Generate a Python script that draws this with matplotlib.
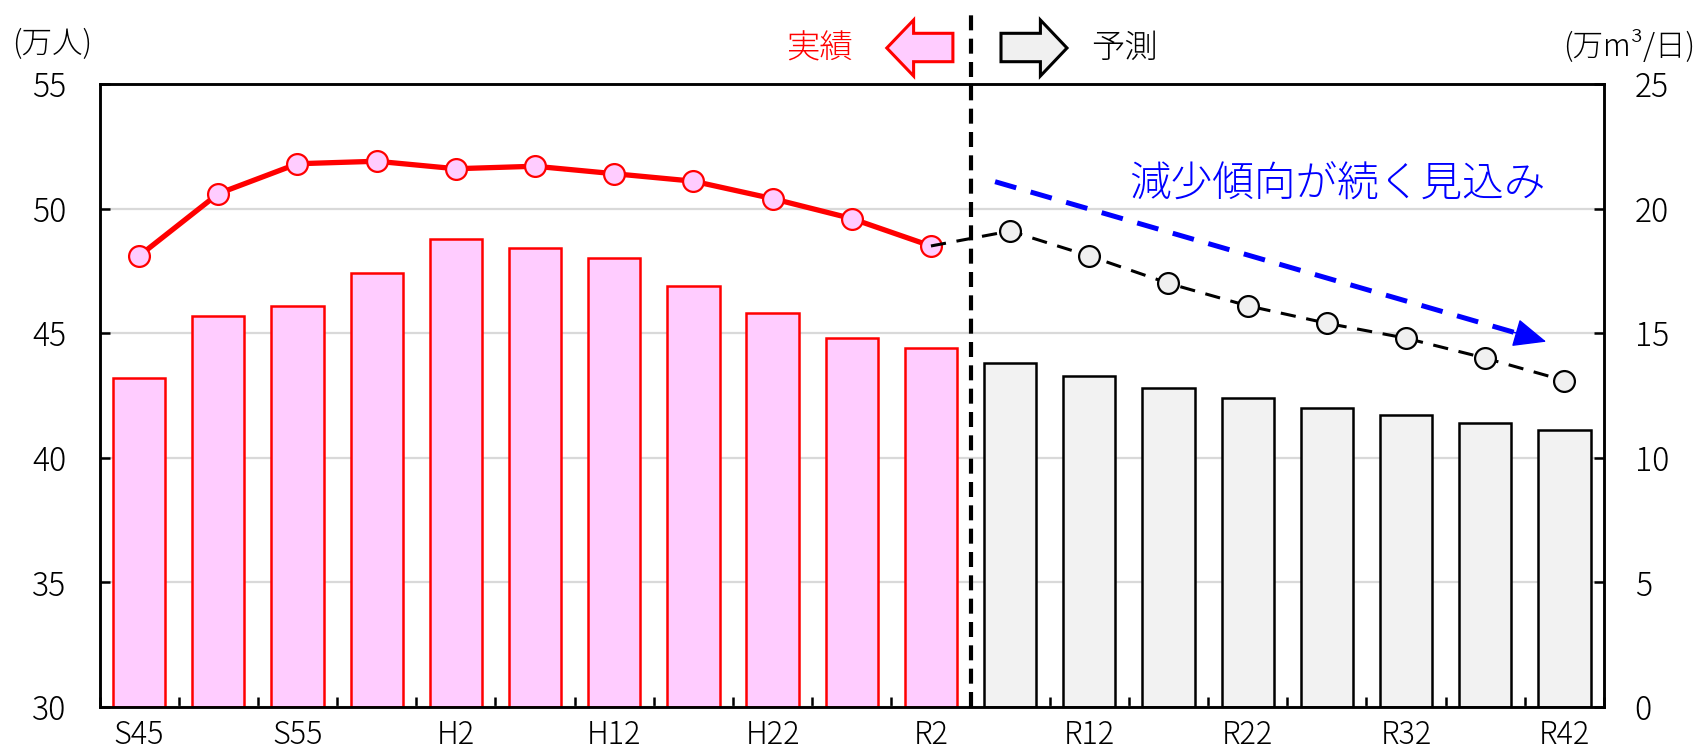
import numpy as np
import matplotlib
matplotlib.use("Agg")
import matplotlib.pyplot as plt
from matplotlib.patches import Polygon

plt.rcParams['font.family'] = ['Noto Sans CJK JP', 'DejaVu Sans']
plt.rcParams['font.weight'] = 'light'

# ---- data ----
categories = ['S45', 'S50', 'S55', 'S60', 'H2', 'H7', 'H12', 'H17', 'H22', 'H27',
              'R2', 'R7', 'R12', 'R17', 'R22', 'R27', 'R32', 'R37', 'R42']
tick_labels = [c if i % 2 == 0 else '' for i, c in enumerate(categories)]
pop_actual = [48.1, 50.6, 51.8, 51.9, 51.6, 51.7, 51.4, 51.1, 50.4, 49.6, 48.5]
pop_forecast = [49.1, 48.1, 47.0, 46.1, 45.4, 44.8, 44.0, 43.1]
water_actual = [13.2, 15.7, 16.1, 17.4, 18.8, 18.4, 18.0, 16.9, 15.8, 14.8, 14.4]
water_forecast = [13.8, 13.3, 12.8, 12.4, 12.0, 11.7, 11.4, 11.1]

W, H = 1700, 755
fig = plt.figure(figsize=(W / 100, H / 100), dpi=100)
ax = fig.add_axes([99.5 / W, 1 - 707 / H, (1604 - 99.5) / W, (707 - 84) / H])
ax2 = ax.twinx()

n_a = len(water_actual)
xa = np.arange(n_a)
xf = np.arange(n_a, n_a + len(water_forecast))

# bars (right axis, 万m3/日)
ax.bar(xa, water_actual, width=0.66, color='#FFCCFF', edgecolor='#FF0000', linewidth=1.8, zorder=2)
ax.bar(xf, water_forecast, width=0.66, color='#F2F2F2', edgecolor='#000000', linewidth=1.8, zorder=2)
ax.set_ylim(0, 25)
ax.set_yticks(np.arange(0, 26, 5))
ax.set_axisbelow(True)
ax.yaxis.grid(True, color='#D9D9D9', linewidth=1.6)
ax.set_xlim(-0.5, len(categories) - 0.5)
ax.yaxis.tick_right()

# line (left axis, 万人)
ax2.yaxis.tick_left()
ax2.set_ylim(30, 55)
ax2.set_yticks(np.arange(30, 56, 5))
ax2.plot(xa, pop_actual, color='#FF0000', linewidth=3.8, marker='o', markersize=15,
         markerfacecolor='#FFCCFF', markeredgecolor='#FF0000', markeredgewidth=1.6, zorder=3)
fx = np.concatenate([[xa[-1]], xf])
fy = [pop_actual[-1]] + pop_forecast
ax2.plot(fx, fy, color='black', linewidth=2.2, linestyle=(0, (5, 3.5)), marker='o', markersize=15,
         markerfacecolor='#F0F0F0', markeredgecolor='black', markeredgewidth=1.6,
         markevery=list(range(1, len(fx))), zorder=4)

# boundary between 実績 and 予測
ax2.axvline(n_a - 0.5, ymin=0, ymax=1.114, color='black', linewidth=3,
            linestyle=(0, (3.6, 2.0)), clip_on=False, zorder=5)

# trend arrow: dashed shaft + solid head
trend_start = np.array([10.81, 51.08])
trend_end = np.array([17.77, 44.66])
shaft_end = trend_start + 0.955 * (trend_end - trend_start)
head_from = trend_start + 0.93 * (trend_end - trend_start)
ax2.plot([trend_start[0], shaft_end[0]], [trend_start[1], shaft_end[1]], color='#0000FF',
         lw=3.6, linestyle=(0, (4.4, 3)), solid_capstyle='butt', zorder=6)
ax2.annotate('', xy=tuple(trend_end), xytext=tuple(head_from),
             arrowprops=dict(arrowstyle='-|>,head_length=1.5,head_width=0.65',
                             color='#0000FF', lw=1.0,
                             shrinkA=0, shrinkB=0, mutation_scale=14), zorder=6)
ax2.text(0.961, 0.838, '減少傾向が続く見込み', transform=ax2.transAxes, ha='right', va='center',
         fontsize=30, color='#0000FF')

# axes styling
for a in (ax, ax2):
    for s in a.spines.values():
        s.set_linewidth(1.8)
        s.set_color('black')
ax.set_xticks(np.arange(-0.5, len(categories), 1))
ax.set_xticklabels([])
ax.set_xticks(np.arange(len(categories)), minor=True)
ax.set_xticklabels(tick_labels, minor=True)
ax.tick_params(axis='x', which='major', direction='in', length=7, width=1.8)
ax.tick_params(axis='x', which='minor', length=0, pad=9, labelsize=22)
ax.tick_params(axis='y', direction='in', length=7, width=1.8, labelsize=23, pad=22)
ax2.tick_params(axis='y', direction='in', length=7, width=1.8, labelsize=23, pad=24)

# unit labels
fig.text(12.5 / W, 1 - 44 / H, '(万人)', ha='left', va='center', fontsize=22)
fig.text(1695 / W, 1 - 46 / H, '(万m³/日)', ha='right', va='center', fontsize=22)

# 実績 / 予測 legend arrows
def px(points):
    return [(x / W, 1 - y / H) for x, y in points]

left_arrow = [(886.8, 48), (913.6, 20), (913.6, 33.3), (952.9, 33.3), (952.9, 61.7), (913.6, 61.7), (913.6, 76)]
right_arrow = [(1067, 48), (1040.4, 20), (1040.4, 33.3), (1001, 33.3), (1001, 61.7), (1040.4, 61.7), (1040.4, 76)]
fig.patches.append(Polygon(px(left_arrow), closed=True, facecolor='#FFCCFF', edgecolor='#FF0000',
                           linewidth=2.2, transform=fig.transFigure, figure=fig))
fig.patches.append(Polygon(px(right_arrow), closed=True, facecolor='#F0F0F0', edgecolor='black',
                           linewidth=2.2, transform=fig.transFigure, figure=fig))
fig.text(820 / W, 1 - 49 / H, '実績', ha='center', va='center', fontsize=24, color='#FF0000')
fig.text(1124.5 / W, 1 - 49 / H, '予測', ha='center', va='center', fontsize=24, color='black')

fig.savefig('out.png', dpi=100)
